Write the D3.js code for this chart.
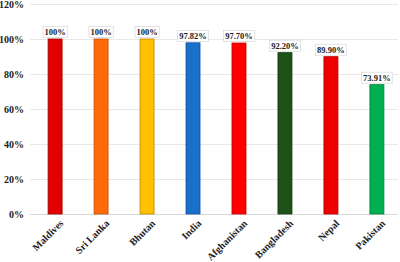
<!DOCTYPE html>
<html><head><meta charset="utf-8">
<script src="https://cdn.jsdelivr.net/npm/d3@7"></script>
<style>body{margin:0;background:#fff}svg{display:block}</style>
</head><body>
<script>
const categories = ["Maldives","Sri Lanka","Bhutan","India","Afghanistan","Bangladesh","Nepal","Pakistan"];
const values = [100, 100, 100, 97.82, 97.70, 92.20, 89.90, 73.91];
const valueLabels = ["100%","100%","100%","97.82%","97.70%","92.20%","89.90%","73.91%"];
const colors = ["#e30000","#ff6a0a","#ffc000","#1a6fc9","#ff0000","#1e5117","#ee0000","#00b050"];
const strokes = ["#a00000","#c05000","#b88a00","#1050a0","#c00000","#133a0f","#b00000","#008038"];
const yTicks = [0,20,40,60,80,100,120];

const W=400,H=262;
const svg=d3.select("body").append("svg").attr("width",W).attr("height",H);
const y=d3.scaleLinear().domain([0,120]).range([214,4]);
const x=d3.scaleBand().domain(categories).range([32,400]).paddingInner(0.695).paddingOuter(0.35);
const font="'Liberation Serif','Times New Roman',serif";

svg.append("g").selectAll("line").data(yTicks).join("line")
 .attr("x1",30).attr("x2",398).attr("y1",d=>y(d)).attr("y2",d=>y(d))
 .attr("stroke",d=>d===0?"#d9d9d9":"#e8e8e8").attr("stroke-width",1).attr("shape-rendering","crispEdges");

const yAxis=d3.axisLeft(y).tickValues(yTicks).tickFormat(d=>d+"%").tickSize(0).tickPadding(0);
const ga=svg.append("g").attr("transform","translate(24,0)").call(yAxis);
ga.select(".domain").remove();
ga.selectAll("text").attr("font-family",font).attr("font-weight","bold").attr("font-size","10px").attr("fill","#222");

svg.append("g").selectAll("rect").data(values).join("rect")
 .attr("x",(d,i)=>x(categories[i])).attr("width",x.bandwidth())
 .attr("y",d=>y(d)).attr("height",d=>y(0)-y(d))
 .attr("fill",(d,i)=>colors[i]).attr("stroke",(d,i)=>strokes[i]).attr("stroke-width",0.8);

const lg=svg.append("g");
values.forEach((v,i)=>{
  const cx=x(categories[i])+x.bandwidth()/2;
  const g=lg.append("g");
  const t=g.append("text").attr("x",cx).attr("y",y(v)-4).attr("text-anchor","middle")
   .attr("font-family",font).attr("font-weight","bold").attr("font-size","8.5px").attr("fill","#222").text(valueLabels[i]);
  const bb=t.node().getBBox();
  g.insert("rect","text").attr("x",bb.x-1.5).attr("y",bb.y-0.5).attr("width",bb.width+3).attr("height",bb.height+1)
   .attr("fill","#fff").attr("stroke","#d0d0d0").attr("stroke-width",0.6);
});

const xl=svg.append("g");
categories.forEach((c,i)=>{
  const cx=x(c)+x.bandwidth()/2;
  xl.append("text").attr("transform",`translate(${cx+4},${219}) rotate(-45)`)
   .attr("text-anchor","end").attr("dy","0.7em")
   .attr("font-family",font).attr("font-weight","bold").attr("font-size","10px").attr("fill","#222").text(c);
});
</script>
</body></html>
